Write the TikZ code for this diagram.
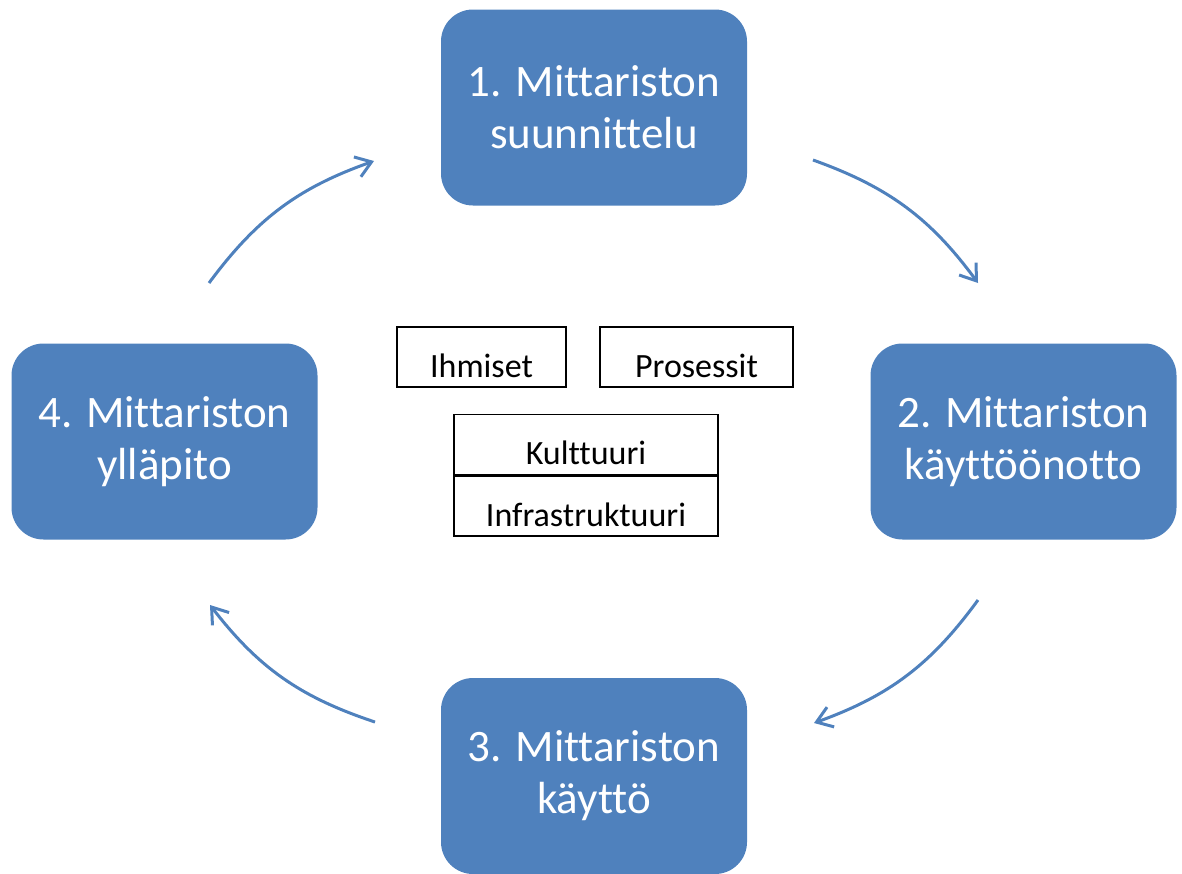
\documentclass[tikz,border=0pt]{standalone}
\usepackage{fontspec}
\setmainfont[RawFeature={-liga}]{Carlito}
\usetikzlibrary{arrows.meta}
\definecolor{stepblue}{HTML}{4F81BD}
\tikzset{
  stepbox/.style={rectangle, rounded corners=32pt, fill=stepblue, text=white,
    minimum width=306pt, minimum height=196pt, inner sep=0pt, align=center,
    font=\fontsize{45}{52}\selectfont},
  factor/.style={rectangle, draw=black, line width=1.5pt, inner xsep=0pt, inner ysep=0pt,
    text height=50pt, text depth=10pt, font=\fontsize{34}{38}\selectfont},
  cycle/.style={draw=stepblue, line width=3pt,
    -{Straight Barb[length=15pt, width=21pt, line width=3pt]}}
}
\begin{document}
\begin{tikzpicture}[x=1pt, y=-1pt]
  \useasboundingbox (0,0) rectangle (1182,873);

  % four phases of the cycle
  \node[stepbox] (s1) at (594,107.5) {1. Mittariston\\suunnittelu};
  \node[stepbox] (s2) at (1023.5,441.5) {2. Mittariston\\käyttöönotto};
  \node[stepbox] (s3) at (594,776) {3. Mittariston\\käyttö};
  \node[stepbox] (s4) at (164.5,441.5) {4. Mittariston\\ylläpito};

  % cycle arrows
  \coordinate (a1s) at (813,160);  \coordinate (a1e) at (978,283);
  \coordinate (a2s) at (978,600);  \coordinate (a2e) at (814,723);
  \coordinate (a3s) at (375,722);  \coordinate (a3e) at (210,605);
  \coordinate (a4s) at (209,283);  \coordinate (a4e) at (374,161);
  \draw[cycle] (a1s) to[bend left=17] (a1e);
  \draw[cycle] (a2s) to[bend left=17] (a2e);
  \draw[cycle] (a3s) to[bend left=17] (a3e);
  \draw[cycle] (a4s) to[bend left=17] (a4e);

  % foundations in the middle
  \node[factor, minimum width=169pt] (ihm) at (481.5,357) {Ihmiset};
  \node[factor, minimum width=193pt] (pro) at (696.5,357) {Prosessit};
  \node[factor, minimum width=264pt] (kul) at (586,444.5) {Kulttuuri};
  \node[factor, minimum width=264pt, anchor=north] (inf) at (kul.south) {Infrastruktuuri};
\end{tikzpicture}
\end{document}
